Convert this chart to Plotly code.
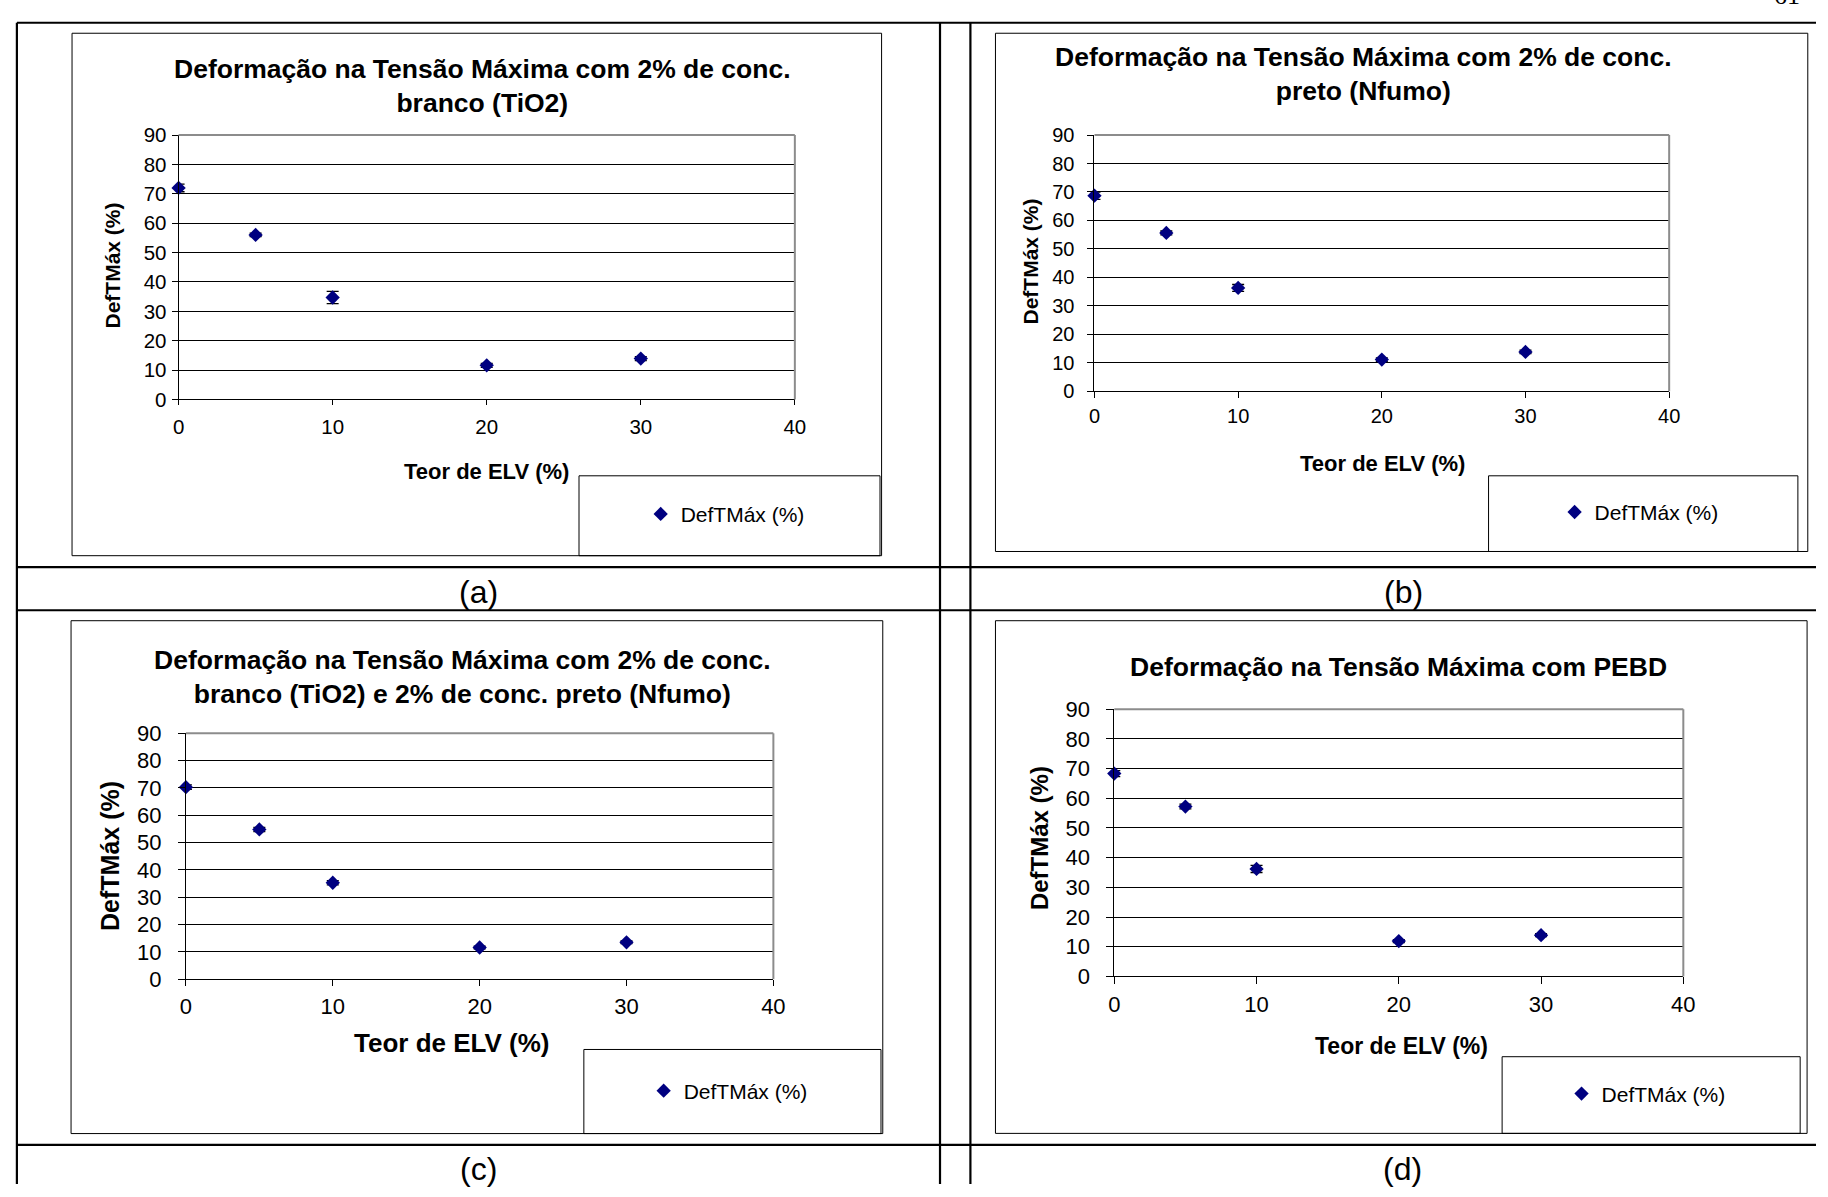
import plotly.graph_objects as go

W, H = 1828, 1197

# ---------------- data ----------------
x_elv = [0, 5, 10, 20, 30]

def_a = [72.0, 56.0, 34.7, 11.6, 13.9]
err_a = [1.3, 0.6, 2.1, 0.7, 0.7]

def_b = [68.7, 55.6, 36.3, 11.1, 13.8]
err_b = [1.3, 0.7, 1.2, 0.6, 0.6]

def_c = [70.3, 54.8, 35.3, 11.6, 13.5]
err_c = [0.8, 0.8, 0.8, 0.5, 0.5]

def_d = [68.3, 57.2, 36.2, 11.9, 13.9]
err_d = [1.0, 0.8, 1.2, 0.5, 0.5]

titles = [
    "Deformação na Tensão Máxima com 2% de conc.<br>branco (TiO2)",
    "Deformação na Tensão Máxima com 2% de conc.<br>preto (Nfumo)",
    "Deformação na Tensão Máxima com 2% de conc.<br>branco (TiO2) e 2% de conc. preto (Nfumo)",
    "Deformação na Tensão Máxima com PEBD",
]
panel_labels = ["(a)", "(b)", "(c)", "(d)"]
series_name = "DefTMáx (%)"
x_title = "Teor de ELV (%)"
y_title = "DefTMáx (%)"
y_ticks = [0, 10, 20, 30, 40, 50, 60, 70, 80, 90]
x_ticks = [0, 10, 20, 30, 40]
page_number = "61"

# ---------------- layout geometry (pixels) ----------------
FONT = "Liberation Sans, Arial, sans-serif"
SERIF = "Liberation Serif, Times New Roman, serif"


def px(x):
    return x / W


def py(y):
    return 1 - y / H


panels = [
    dict(vals=def_a, err=err_a, plot=(174.3, 125.7, 796.7, 395.7), box=(66.7, 21.7, 884.3, 555.3),
         legbox=(578.7, 473.7, 882.7, 555.3), leg=(681, 513), title=(481, 76), ytitle=(108, 259),
         xtitle=(485, 469), tickfs=20.5, ytfs=21, xtfs=22, yticklen=6, xticklen=5, label=(477, 592),
         ystand=1, xstand=4),
    dict(vals=def_b, err=err_b, plot=(1099.3, 125.7, 1679.7, 387.3), box=(999.3, 21.7, 1819.7, 551),
         legbox=(1497.3, 473.7, 1809.7, 551), leg=(1604, 511), title=(1371, 63), ytitle=(1035, 255),
         xtitle=(1390, 461), tickfs=20, ytfs=21, xtfs=22, yticklen=6, xticklen=6, label=(1411, 592),
         ystand=9, xstand=1),
    dict(vals=def_c, err=err_c, plot=(181.7, 736.7, 775.0, 987.8), box=(65.7, 621.7, 885.5, 1145.5),
         legbox=(583.6, 1059.6, 883.7, 1145.5), leg=(684, 1102), title=(461, 679), ytitle=(105, 862),
         xtitle=(450, 1053), tickfs=22, ytfs=25, xtfs=26, yticklen=7, xticklen=6, label=(477, 1182),
         ystand=12, xstand=1),
    dict(vals=def_d, err=err_d, plot=(1119.3, 712.0, 1694.0, 985.0), box=(999.3, 621.7, 1819.0, 1145.3),
         legbox=(1511, 1067, 1812, 1145.3), leg=(1611, 1105), title=(1406, 669), ytitle=(1044, 844),
         xtitle=(1409, 1056), tickfs=22, ytfs=24, xtfs=23, yticklen=7, xticklen=7, label=(1410, 1182),
         ystand=12, xstand=1),
]

fig = go.Figure()
layout_kw = {}
shapes = []
annotations = []

for i, p in enumerate(panels):
    n = "" if i == 0 else str(i + 1)
    xa, ya, leg = "x" + n, "y" + n, "legend" + n
    x0, y0, x1, y1 = p["plot"]

    fig.add_trace(go.Scatter(
        x=x_elv, y=p["vals"], mode="markers", name=series_name,
        marker=dict(symbol="diamond", size=11, color="#000080", line=dict(width=0)),
        error_y=dict(type="data", array=p["err"], visible=True, color="black",
                     thickness=1.3, width=6),
        xaxis=xa, yaxis=ya, legend=leg, showlegend=True, cliponaxis=False,
    ))

    layout_kw["xaxis" + n] = dict(
        domain=[px(x0), px(x1)], range=[0, 40], tickvals=x_ticks, showgrid=False,
        zeroline=False, showline=True, linecolor="black", linewidth=1,
        ticks="outside", ticklen=p["xticklen"], tickcolor="black", tickwidth=1,
        ticklabelstandoff=p["xstand"],
        tickfont=dict(family=FONT, size=p["tickfs"], color="black"),
        anchor=ya, fixedrange=True,
    )
    layout_kw["yaxis" + n] = dict(
        domain=[py(y1), py(y0)], range=[0, 90], tickvals=y_ticks, showgrid=True,
        gridcolor="black", gridwidth=1, zeroline=False, showline=True,
        linecolor="black", linewidth=1, ticks="outside", ticklen=p["yticklen"],
        tickcolor="black", tickwidth=1, ticklabelstandoff=p["ystand"],
        tickfont=dict(family=FONT, size=p["tickfs"], color="black"),
        anchor=xa, fixedrange=True,
    )
    lx, ly = p["leg"]
    layout_kw[leg] = dict(
        x=px(lx - 40), y=py(ly), xanchor="left", yanchor="middle",
        bgcolor="rgba(0,0,0,0)", borderwidth=0,
        font=dict(family=FONT, size=21, color="black"),
    )

    # grey plot-area border (top & right)
    shapes.append(dict(type="line", xref="paper", yref="paper", x0=px(x0), x1=px(x1),
                       y0=py(y0), y1=py(y0), line=dict(color="#8c8c8c", width=2), layer="above"))
    shapes.append(dict(type="line", xref="paper", yref="paper", x0=px(x1), x1=px(x1),
                       y0=py(y0), y1=py(y1), line=dict(color="#8c8c8c", width=2), layer="above"))
    # chart box
    bx0, by0, bx1, by1 = p["box"]
    shapes.append(dict(type="rect", xref="paper", yref="paper", x0=px(bx0), x1=px(bx1),
                       y0=py(by1), y1=py(by0), line=dict(color="black", width=1)))
    # legend box
    lx0, ly0, lx1, ly1 = p["legbox"]
    shapes.append(dict(type="rect", xref="paper", yref="paper", x0=px(lx0), x1=px(lx1),
                       y0=py(ly1), y1=py(ly0), line=dict(color="black", width=1)))

    tx, ty = p["title"]
    annotations.append(dict(text="<b>" + titles[i] + "</b>", x=px(tx), y=py(ty),
                            xref="paper", yref="paper", xanchor="center", yanchor="middle",
                            showarrow=False, font=dict(family=FONT, size=26.5, color="black")))
    yx, yy = p["ytitle"]
    annotations.append(dict(text="<b>" + y_title + "</b>", x=px(yx), y=py(yy), textangle=-90,
                            xref="paper", yref="paper", xanchor="center", yanchor="middle",
                            showarrow=False, font=dict(family=FONT, size=p["ytfs"], color="black")))
    xx, xy = p["xtitle"]
    annotations.append(dict(text="<b>" + x_title + "</b>", x=px(xx), y=py(xy),
                            xref="paper", yref="paper", xanchor="center", yanchor="middle",
                            showarrow=False, font=dict(family=FONT, size=p["xtfs"], color="black")))
    lbx, lby = p["label"]
    annotations.append(dict(text=panel_labels[i], x=px(lbx), y=py(lby),
                            xref="paper", yref="paper", xanchor="center", yanchor="middle",
                            showarrow=False, font=dict(family=FONT, size=32, color="black")))

# table lines
for yy in [11, 567, 611, 1157]:
    shapes.append(dict(type="line", xref="paper", yref="paper", x0=px(11), x1=px(W),
                       y0=py(yy), y1=py(yy), line=dict(color="black", width=2.2)))
for xx in [11, 943.3, 974]:
    shapes.append(dict(type="line", xref="paper", yref="paper", x0=px(xx), x1=px(xx),
                       y0=py(11), y1=py(H), line=dict(color="black", width=2.2)))

# partially cut page number (top right corner of the page)
annotations.append(dict(text=page_number, x=px(1799), y=py(0), xref="paper", yref="paper",
                        xanchor="center", yanchor="bottom", showarrow=False,
                        font=dict(family=SERIF, size=26, color="black")))

fig.update_layout(
    width=W, height=H, autosize=False,
    margin=dict(l=0, r=0, t=0, b=0),
    paper_bgcolor="white", plot_bgcolor="white",
    shapes=shapes, annotations=annotations,
    **layout_kw,
)

fig.write_html("out.html")
